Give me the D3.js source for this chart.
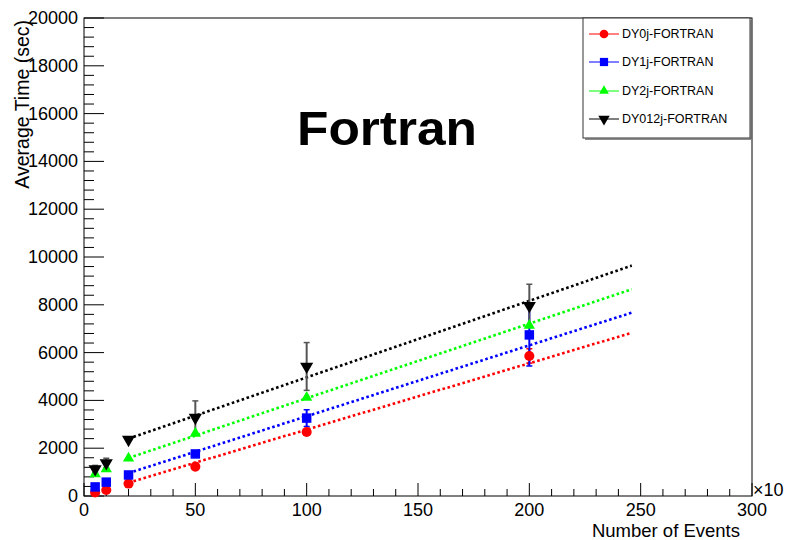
<!DOCTYPE html>
<html><head><meta charset="utf-8">
<script src="https://cdn.jsdelivr.net/npm/d3@7"></script>
<style>body{margin:0;background:#fff}svg{display:block}text{font-family:"Liberation Sans",Arial,sans-serif}</style>
</head><body>
<script>
const xValues = [5, 10, 20, 50, 100, 200];
const seriesNames = ["DY0j-FORTRAN", "DY1j-FORTRAN", "DY2j-FORTRAN", "DY012j-FORTRAN"];
const dy0j = [150, 250, 520, 1230, 2680, 5860];
const dy1j = [380, 580, 880, 1760, 3260, 6740];
const dy2j = [920, 1130, 1580, 2620, 4120, 7130];
const dy012j = [1130, 1380, 2360, 3280, 5420, 7960];
const err0j = [40, 50, 0, 0, 100, 300];
const err1j = [0, 0, 0, 0, 350, 1300];
const err2j = [0, 0, 0, 0, 0, 0];
const err012j = [150, 200, 0, 700, 1000, 900];
const fitX = [20, 246];
const fit0j = [560, 6830];
const fit1j = [960, 7670];
const fit2j = [1590, 8650];
const fit012j = [2400, 9640];
const xTicks = [0, 50, 100, 150, 200, 250, 300];
const yTicks = [0, 2000, 4000, 6000, 8000, 10000, 12000, 14000, 16000, 18000, 20000];
const title = "Fortran";

const colors = ["#ff0000", "#0000ff", "#00ff00", "#000000"];
const symbols = [d3.symbolCircle, d3.symbolSquare, d3.symbolTriangle, d3.symbolTriangle];
const symSizes = [80, 90, 55, 75];
const rotations = [0, 0, 0, 180];
const series = [
  {vals: dy0j, err: err0j, fit: fit0j},
  {vals: dy1j, err: err1j, fit: fit1j},
  {vals: dy2j, err: err2j, fit: fit2j},
  {vals: dy012j, err: err012j, fit: fit012j}
];

const W = 787, H = 540;
const L = 84, R = 752, T = 18, B = 496;
const svg = d3.select("body").append("svg").attr("width", W).attr("height", H);
const x = d3.scaleLinear().domain([0, 300]).range([L, R]);
const y = d3.scaleLinear().domain([0, 20000]).range([B, T]);

// frame
svg.append("rect").attr("x", L).attr("y", T).attr("width", R - L).attr("height", B - T)
  .attr("fill", "none").attr("stroke", "#000").attr("stroke-width", 1);

// y axis ticks (inside)
const yMinor = d3.range(0, 20001, 400);
svg.append("g").selectAll("line").data(yMinor).join("line")
  .attr("x1", L).attr("x2", d => L + (d % 2000 === 0 ? 20 : 10))
  .attr("y1", d => y(d)).attr("y2", d => y(d)).attr("stroke", "#000").attr("stroke-width", 1);
svg.append("g").selectAll("text").data(yTicks).join("text")
  .attr("x", L - 6).attr("y", d => y(d) + 6).attr("text-anchor", "end")
  .attr("font-size", 18).text(d => d);

// x axis ticks (inside)
const xMinor = d3.range(0, 301, 10);
svg.append("g").selectAll("line").data(xMinor).join("line")
  .attr("x1", d => x(d)).attr("x2", d => x(d))
  .attr("y1", B).attr("y2", d => B - (d % 50 === 0 ? 13 : 7)).attr("stroke", "#000").attr("stroke-width", 1);
svg.append("g").selectAll("text").data(xTicks).join("text")
  .attr("x", d => x(d)).attr("y", 516).attr("text-anchor", "middle")
  .attr("font-size", 18).text(d => d);
svg.append("text").attr("x", R + 1).attr("y", 496).attr("font-size", 18).text("×10");

// axis titles
svg.append("text").attr("x", 740).attr("y", 537).attr("text-anchor", "end")
  .attr("font-size", 18.5).text("Number of Events");
svg.append("text").attr("transform", "translate(29,20) rotate(-90)").attr("text-anchor", "end")
  .attr("font-size", 19.5).text("Average Time (sec)");

// fit lines
const line = d3.line().x(d => x(d[0])).y(d => y(d[1]));
series.forEach((s, i) => {
  svg.append("path").datum(fitX.map((fx, j) => [fx, s.fit[j]]))
    .attr("d", line).attr("fill", "none").attr("stroke", colors[i])
    .attr("stroke-width", 2.6).attr("stroke-dasharray", "2.6,2.6");
});

// error bars
series.forEach((s, i) => {
  const g = svg.append("g");
  const ec = i === 3 ? "#555" : colors[i];
  xValues.forEach((xv, j) => {
    const e = s.err[j];
    if (!e) return;
    g.append("line").attr("x1", x(xv)).attr("x2", x(xv))
      .attr("y1", y(s.vals[j] - e)).attr("y2", y(s.vals[j] + e))
      .attr("stroke", ec).attr("stroke-width", 2);
    [s.vals[j] - e, s.vals[j] + e].forEach(v => {
      g.append("line").attr("x1", x(xv) - 3).attr("x2", x(xv) + 3)
        .attr("y1", y(v)).attr("y2", y(v)).attr("stroke", ec).attr("stroke-width", 1.5);
    });
  });
});

// markers
series.forEach((s, i) => {
  svg.append("g").selectAll("path").data(xValues).join("path")
    .attr("d", d3.symbol().type(symbols[i]).size(symSizes[i]))
    .attr("transform", (d, j) => `translate(${x(d)},${y(s.vals[j])}) rotate(${rotations[i]})`)
    .attr("fill", colors[i]);
});

// legend
const lg = svg.append("g");
lg.append("rect").attr("x", 583).attr("y", 18).attr("width", 167).attr("height", 120)
  .attr("fill", "#fff").attr("stroke", "#333").attr("stroke-width", 1);
lg.append("line").attr("x1", 751).attr("x2", 751).attr("y1", 20).attr("y2", 139).attr("stroke", "#666").attr("stroke-width", 1.5);
lg.append("line").attr("x1", 585).attr("x2", 751).attr("y1", 139).attr("y2", 139).attr("stroke", "#666").attr("stroke-width", 1.5);
const legY = [34, 62, 91, 119];
seriesNames.forEach((n, i) => {
  lg.append("line").attr("x1", 589).attr("x2", 619).attr("y1", legY[i]).attr("y2", legY[i])
    .attr("stroke", colors[i]).attr("stroke-width", 1);
  lg.append("path").attr("d", d3.symbol().type(symbols[i]).size(symSizes[i] * 0.75))
    .attr("transform", `translate(604,${legY[i]}) rotate(${rotations[i]})`).attr("fill", colors[i]);
  lg.append("text").attr("x", 622).attr("y", legY[i] + 4).attr("font-size", 12.5).text(n);
});

// title
svg.append("text").attr("x", 387).attr("y", 145).attr("text-anchor", "middle")
  .attr("font-size", 48).attr("font-weight", "bold")
  .attr("textLength", 180).attr("lengthAdjust", "spacingAndGlyphs").text(title);
</script>
</body></html>
